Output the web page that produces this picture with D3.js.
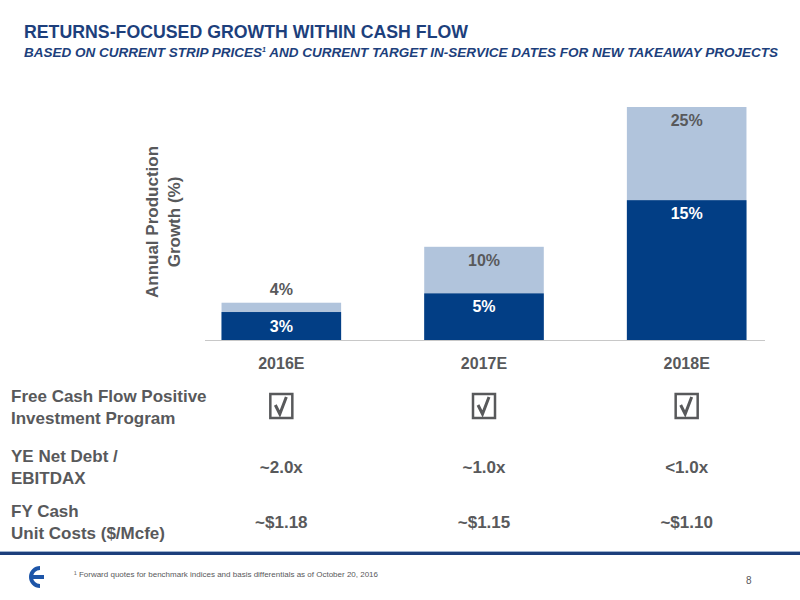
<!DOCTYPE html>
<html><head><meta charset="utf-8">
<script src="https://cdn.jsdelivr.net/npm/d3@7"></script>
<style>body{margin:0;background:#fff}text{font-family:"Liberation Sans",Arial,sans-serif}</style>
</head><body><div id="chart"></div>
<script>
// chart values
let years = ["2016E", "2017E", "2018E"];
let baseGrowth = [3, 5, 15];
let totalGrowth = [4, 10, 25];
let debtRatio = ["~2.0x", "~1.0x", "<1.0x"];
let unitCosts = ["~$1.18", "~$1.15", "~$1.10"];

let width = 800, height = 600;
let dark = "#023e85", light = "#b1c4dc", gray = "#58595b", navy = "#1d3f7c";

let svg = d3.select("#chart").append("svg")
    .attr("width", width).attr("height", height);

// header
svg.append("text").attr("x", 24).attr("y", 38)
    .style("font-size", "18px").style("font-weight", "bold").attr("fill", navy)
    .attr("textLength", 444).attr("lengthAdjust", "spacingAndGlyphs")
    .text("RETURNS-FOCUSED GROWTH WITHIN CASH FLOW");
let sub = svg.append("text").attr("x", 24).attr("y", 57)
    .style("font-size", "13.5px").style("font-weight", "bold").style("font-style", "italic").attr("fill", navy);
sub.append("tspan").text("BASED ON CURRENT STRIP PRICES");
sub.append("tspan").attr("dy", -5).style("font-size", "7px").text("1");
sub.append("tspan").attr("dy", 5).text(" AND CURRENT TARGET IN-SERVICE DATES FOR NEW TAKEAWAY PROJECTS");

// scales
let x = d3.scaleBand().domain(years).range([181, 787]).paddingInner(0.41).paddingOuter(0.2);
let y = d3.scaleLinear().domain([0, 25]).range([340, 107]);

svg.append("line").attr("x1", 205).attr("x2", 765).attr("y1", 340.5).attr("y2", 340.5)
    .attr("stroke", "#c8c8c8");

let rows = years.map((yr, i) => ({yr, base: baseGrowth[i], total: totalGrowth[i]}));

svg.selectAll(".tot").data(rows).enter().append("rect")
    .attr("x", d => x(d.yr)).attr("width", x.bandwidth())
    .attr("y", d => y(d.total)).attr("height", d => y(0) - y(d.total))
    .attr("fill", light);
svg.selectAll(".base").data(rows).enter().append("rect")
    .attr("x", d => x(d.yr)).attr("width", x.bandwidth())
    .attr("y", d => y(d.base)).attr("height", d => y(0) - y(d.base))
    .attr("fill", dark);

// labels: small total sits above bar
svg.selectAll(".tl").data(rows).enter().append("text")
    .attr("x", d => x(d.yr) + x.bandwidth() / 2)
    .attr("y", d => d.total - d.base < 3 ? y(d.total) - 8 : y(d.total) + 19)
    .attr("text-anchor", "middle").style("font-size", "16px").style("font-weight", "bold")
    .attr("fill", gray).text(d => d.total + "%");
svg.selectAll(".bl").data(rows).enter().append("text")
    .attr("x", d => x(d.yr) + x.bandwidth() / 2)
    .attr("y", d => d.base < 4 ? y(d.base) + 20 : y(d.base) + 19)
    .attr("text-anchor", "middle").style("font-size", "16px").style("font-weight", "bold")
    .attr("fill", "#fff").text(d => d.base + "%");

// axis title
let at = svg.append("text").attr("transform", "translate(158,222) rotate(-90)")
    .attr("text-anchor", "middle").style("font-size", "17px").style("font-weight", "bold").attr("fill", gray);
at.append("tspan").attr("x", 0).attr("dy", 0).text("Annual Production");
at.append("tspan").attr("x", 0).attr("dy", 22).text("Growth (%)");

// year labels
svg.selectAll(".yr").data(years).enter().append("text")
    .attr("x", d => x(d) + x.bandwidth() / 2).attr("y", 369)
    .attr("text-anchor", "middle").style("font-size", "16px").style("font-weight", "bold")
    .attr("fill", gray).text(d => d);

// table rows
let rowLabels = [["Free Cash Flow Positive", "Investment Program", 402], ["YE Net Debt /", "EBITDAX", 462], ["FY Cash", "Unit Costs ($/Mcfe)", 517]];
rowLabels.forEach(r => {
    let t = svg.append("text").attr("x", 11).attr("y", r[2]).style("font-size", "17px")
        .style("font-weight", "bold").attr("fill", gray);
    t.append("tspan").attr("x", 11).text(r[0]);
    t.append("tspan").attr("x", 11).attr("dy", 22).text(r[1]);
});

years.forEach(yr => {
    let cx = x(yr) + x.bandwidth() / 2;
    svg.append("rect").attr("x", cx - 11).attr("y", 394).attr("width", 22).attr("height", 24)
        .attr("fill", "none").attr("stroke", gray).attr("stroke-width", 2.5);
    svg.append("path").attr("d", `M${cx - 6},${405} L${cx - 1.5},${414} L${cx + 5},${397}`)
        .attr("fill", "none").attr("stroke", gray).attr("stroke-width", 3);
});
svg.selectAll(".debt").data(debtRatio).enter().append("text")
    .attr("x", (d, i) => x(years[i]) + x.bandwidth() / 2).attr("y", 473)
    .attr("text-anchor", "middle").style("font-size", "17px").style("font-weight", "bold")
    .attr("fill", gray).text(d => d);
svg.selectAll(".cost").data(unitCosts).enter().append("text")
    .attr("x", (d, i) => x(years[i]) + x.bandwidth() / 2).attr("y", 528)
    .attr("text-anchor", "middle").style("font-size", "17px").style("font-weight", "bold")
    .attr("fill", gray).text(d => d);

// footer
svg.append("rect").attr("x", 0).attr("y", 551).attr("width", width).attr("height", 1).attr("fill", "#9fb3cf");
svg.append("rect").attr("x", 0).attr("y", 552).attr("width", width).attr("height", 3).attr("fill", navy);
svg.append("path").attr("d", "M40,566 A11,11 0 1,0 40,588 L40,584 A7,7 0 1,1 40,570 Z M44,575 L33,575 L33,579 L44,579 Z")
    .attr("fill", "#1d55a8");
svg.append("text").attr("x", 74).attr("y", 577).style("font-size", "8px").attr("fill", gray)
    .text("¹ Forward quotes for benchmark indices and basis differentials as of October 20, 2016");
svg.append("text").attr("x", 746).attr("y", 584).style("font-size", "10px").attr("fill", gray).text("8");
</script></body></html>
